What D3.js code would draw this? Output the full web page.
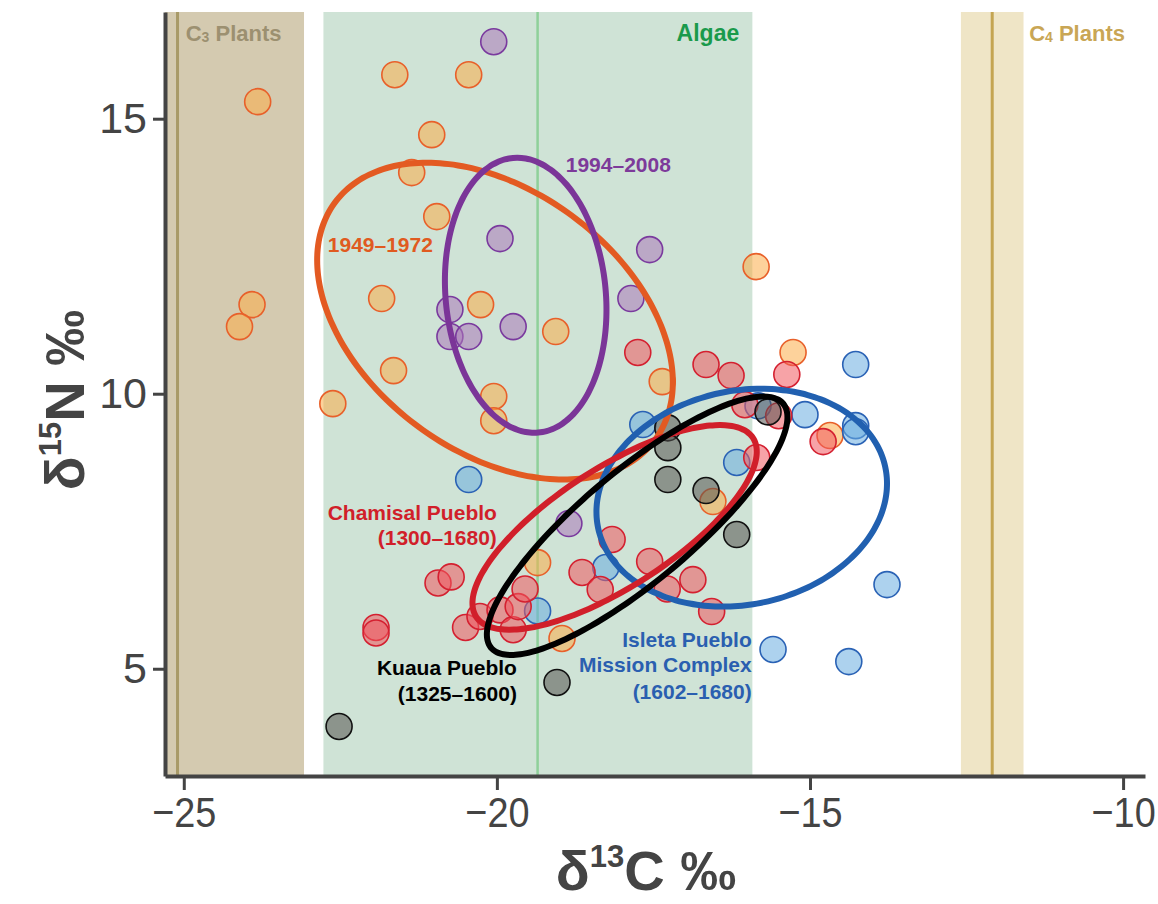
<!DOCTYPE html>
<html>
<head>
<meta charset="utf-8">
<script src="https://cdn.jsdelivr.net/npm/d3@7"></script>
<style>
  body { margin: 0; background: #fff; }
  svg { font-family: "Liberation Sans", Arial, sans-serif; }
</style>
</head>
<body>
<div id="scatter"></div>
<script>
// source bands (d13C ranges) and their typical value lines
var bandNames = ["C3", "Algae", "C4"];
var bandRanges = [[-25.3, -23.08], [-22.77, -15.92], [-12.59, -11.59]];
var bandLines = [-25.1, -19.35, -12.09];

// points per group: [d13C, d15N]
var pts1949 = [[-23.82, 15.31], [-21.63, 15.80], [-20.45, 15.80], [-21.04, 14.71], [-21.36, 14.02],
  [-20.96, 13.22], [-23.91, 11.62], [-24.11, 11.22], [-21.84, 11.73], [-20.26, 11.62], [-21.65, 10.42],
  [-22.62, 9.82], [-20.05, 9.95], [-20.05, 9.51], [-19.06, 11.13], [-17.36, 10.22], [-15.86, 12.31],
  [-15.27, 10.75], [-14.68, 9.24], [-16.55, 8.04], [-19.35, 6.93], [-18.96, 5.55]];
var pts1994 = [[-20.05, 16.40], [-19.95, 12.82], [-17.56, 12.62], [-17.86, 11.73], [-20.75, 11.53],
  [-20.75, 11.04], [-20.45, 11.04], [-19.74, 11.22], [-18.85, 7.64]];
var ptsChamisal = [[-17.75, 10.75], [-16.66, 10.53], [-16.26, 10.33], [-15.37, 10.35], [-14.79, 9.13],
  [-16.04, 9.80], [-15.50, 9.60], [-15.85, 8.84], [-18.16, 7.35], [-18.64, 6.75], [-18.35, 6.44],
  [-17.56, 6.95], [-17.28, 6.45], [-16.87, 6.62], [-16.57, 6.04], [-20.94, 6.56], [-20.73, 6.67],
  [-21.93, 5.75], [-21.93, 5.65], [-20.50, 5.75], [-20.27, 5.95], [-19.95, 6.07], [-19.74, 5.71],
  [-19.66, 6.13], [-19.55, 6.45]];
var ptsIsleta = [[-14.27, 10.53], [-14.27, 9.42], [-14.27, 9.31], [-15.08, 9.62], [-13.77, 6.53],
  [-14.38, 5.13], [-15.59, 5.35], [-15.83, 9.78], [-16.17, 8.75], [-17.67, 9.44], [-20.45, 8.44],
  [-18.26, 6.84], [-19.35, 6.05]];
var ptsKuaua = [[-22.52, 3.95], [-19.04, 4.75], [-17.27, 9.38], [-17.27, 9.02], [-17.27, 8.44],
  [-16.66, 8.24], [-16.17, 7.44], [-15.67, 9.67]];

// standard ellipses: centre x, centre y, sd x, sd y, correlation
var ellipse1949 = [-20.03, 11.32, 2.84, 2.88, -0.385];
var ellipse1994 = [-19.54, 11.79, 1.29, 2.50, -0.105];
var ellipseChamisal = [-18.12, 7.57, 2.27, 1.86, 0.74];
var ellipseIsleta = [-16.09, 8.11, 2.32, 1.98, 0.13];
var ellipseKuaua = [-17.76, 7.60, 2.40, 2.35, 0.84];

var svgWidth = 1158;
var svgHeight = 904;

var svg = d3.select("#scatter")
  .append("svg")
  .attr("width", svgWidth)
  .attr("height", svgHeight);

var x = d3.scaleLinear().domain([-25.3, -9.65]).range([165, 1145]);
var y = d3.scaleLinear().domain([3.05, 16.94]).range([776, 12]);

// background bands
var bandFill = ["#d4cab0", "#cfe3d6", "#efe5c6"];
var bandStroke = ["#a89a68", "#8fd09a", "#c4a552"];
svg.selectAll("rect.band")
  .data(bandRanges)
  .enter()
  .append("rect")
  .attr("class", "band")
  .attr("x", d => x(d[0]))
  .attr("width", d => x(d[1]) - x(d[0]))
  .attr("y", y.range()[1])
  .attr("height", y.range()[0] - y.range()[1])
  .attr("fill", (d, i) => bandFill[i]);

svg.selectAll("line.bandline")
  .data(bandLines)
  .enter()
  .append("line")
  .attr("x1", d => x(d))
  .attr("x2", d => x(d))
  .attr("y1", y.range()[1])
  .attr("y2", y.range()[0])
  .attr("stroke", (d, i) => bandStroke[i])
  .attr("stroke-width", (d, i) => i == 1 ? 2.5 : 3);

// band labels
var c3 = svg.append("text")
  .attr("x", x(-24.97)).attr("y", y(16.56))
  .attr("dominant-baseline", "central")
  .style("font-size", "22px").style("font-weight", "bold")
  .attr("fill", "#9c9070");
c3.append("tspan").text("C");
c3.append("tspan").text("3").style("font-size", "14px").attr("dy", 4);
c3.append("tspan").text(" Plants").attr("dy", -4);

svg.append("text")
  .attr("x", x(-16.13)).attr("y", y(16.56))
  .attr("dominant-baseline", "central")
  .attr("text-anchor", "end")
  .style("font-size", "23px").style("font-weight", "bold")
  .attr("fill", "#1a9a4c")
  .text("Algae");

var c4 = svg.append("text")
  .attr("x", x(-11.5)).attr("y", y(16.56))
  .attr("dominant-baseline", "central")
  .style("font-size", "22px").style("font-weight", "bold")
  .attr("fill", "#c9a655");
c4.append("tspan").text("C");
c4.append("tspan").text("4").style("font-size", "14px").attr("dy", 4);
c4.append("tspan").text(" Plants").attr("dy", -4);

// groups: points, ellipse, colours
var groups = [
  { pts: pts1949, ell: ellipse1949, fill: "#fbad48", stroke: "#e8602a", line: "#e35a22" },
  { pts: pts1994, ell: ellipse1994, fill: "#ab78b9", stroke: "#7a3a9e", line: "#7b3598" },
  { pts: ptsIsleta, ell: ellipseIsleta, fill: "#6aade0", stroke: "#2a62b5", line: "#2160b0" },
  { pts: ptsChamisal, ell: ellipseChamisal, fill: "#f0585f", stroke: "#d42030", line: "#d11f2a" },
  { pts: ptsKuaua, ell: ellipseKuaua, fill: "#555450", stroke: "#111", line: "#000" }
];

groups.forEach(function(g) {
  svg.append("g").selectAll("circle")
    .data(g.pts)
    .enter()
    .append("circle")
    .attr("cx", d => x(d[0]))
    .attr("cy", d => y(d[1]))
    .attr("r", 13)
    .attr("fill", g.fill)
    .attr("fill-opacity", 0.55)
    .attr("stroke", g.stroke)
    .attr("stroke-width", 1.6);
});

// ellipse outline from mean, sd and correlation
function ellipsePoints(e) {
  return d3.range(0, 120).map(function(i) {
    var t = i / 120 * 2 * Math.PI;
    return [e[0] + e[2] * Math.cos(t),
      e[1] + e[3] * (e[4] * Math.cos(t) + Math.sqrt(1 - e[4] * e[4]) * Math.sin(t))];
  });
}
var line = d3.line().x(d => x(d[0])).y(d => y(d[1])).curve(d3.curveCardinalClosed);

groups.forEach(function(g) {
  svg.append("path")
    .attr("d", line(ellipsePoints(g.ell)))
    .attr("fill", "none")
    .attr("stroke", g.line)
    .attr("stroke-width", 6);
});

// group labels
function label(lines, px, py, anchor, color) {
  var t = svg.append("text")
    .attr("text-anchor", anchor)
    .style("font-size", "21px").style("font-weight", "bold")
    .attr("fill", color);
  lines.forEach(function(s, i) {
    t.append("tspan")
      .attr("x", x(px))
      .attr("y", y(py[i]))
      .attr("dominant-baseline", "central")
      .text(s);
  });
}
label(["1949–1972"], -22.70, [12.71], "start", "#e05a20");
label(["1994–2008"], -18.90, [14.16], "start", "#7d3a9a");
label(["Chamisal Pueblo", "(1300–1680)"], -20.0, [7.84, 7.39], "end", "#d11f2a");
label(["Kuaua Pueblo", "(1325–1600)"], -19.68, [5.02, 4.55], "end", "#000");
label(["Isleta Pueblo", "Mission Complex", "(1602–1680)"], -15.93, [5.53, 5.07, 4.58], "end", "#2a5fb0");

// axes
var bottomAxis = d3.axisBottom(x).tickValues([-25, -20, -15, -10]).tickSize(14).tickSizeOuter(0).tickPadding(6);
var leftAxis = d3.axisLeft(y).tickValues([5, 10, 15]).tickSize(12).tickSizeOuter(0).tickPadding(6);

var xa = svg.append("g")
  .attr("transform", `translate(0, ${y.range()[0]})`)
  .call(bottomAxis);
var ya = svg.append("g")
  .attr("transform", `translate(${x.range()[0]}, 0)`)
  .call(leftAxis);

[xa, ya].forEach(function(a) {
  a.select(".domain").attr("stroke", "#444").attr("stroke-width", 4);
  a.selectAll(".tick line").attr("stroke", "#444").attr("stroke-width", 3);
  a.selectAll(".tick text")
    .attr("fill", "#444")
    .style("font-size", "43px")
    .style("font-family", "'Liberation Sans', Arial, sans-serif");
});
// narrower x tick labels so -10 stays inside the page
xa.selectAll(".tick text").attr("transform", "scale(0.88,1)");

// axis titles
var xt = svg.append("text")
  .attr("x", 646).attr("y", 890)
  .attr("text-anchor", "middle")
  .style("font-size", "56px").style("font-weight", "bold")
  .attr("fill", "#444");
xt.append("tspan").text("δ");
xt.append("tspan").text("13").style("font-size", "31px").attr("dy", -23);
xt.append("tspan").text("C ‰").attr("dy", 23);

var yt = svg.append("text")
  .attr("transform", "translate(84, 400) rotate(-90)")
  .attr("text-anchor", "middle")
  .style("font-size", "56px").style("font-weight", "bold")
  .attr("fill", "#444");
yt.append("tspan").text("δ");
yt.append("tspan").text("15").style("font-size", "31px").attr("dy", -23);
yt.append("tspan").text("N ‰").attr("dy", 23);
</script>
</body>
</html>
